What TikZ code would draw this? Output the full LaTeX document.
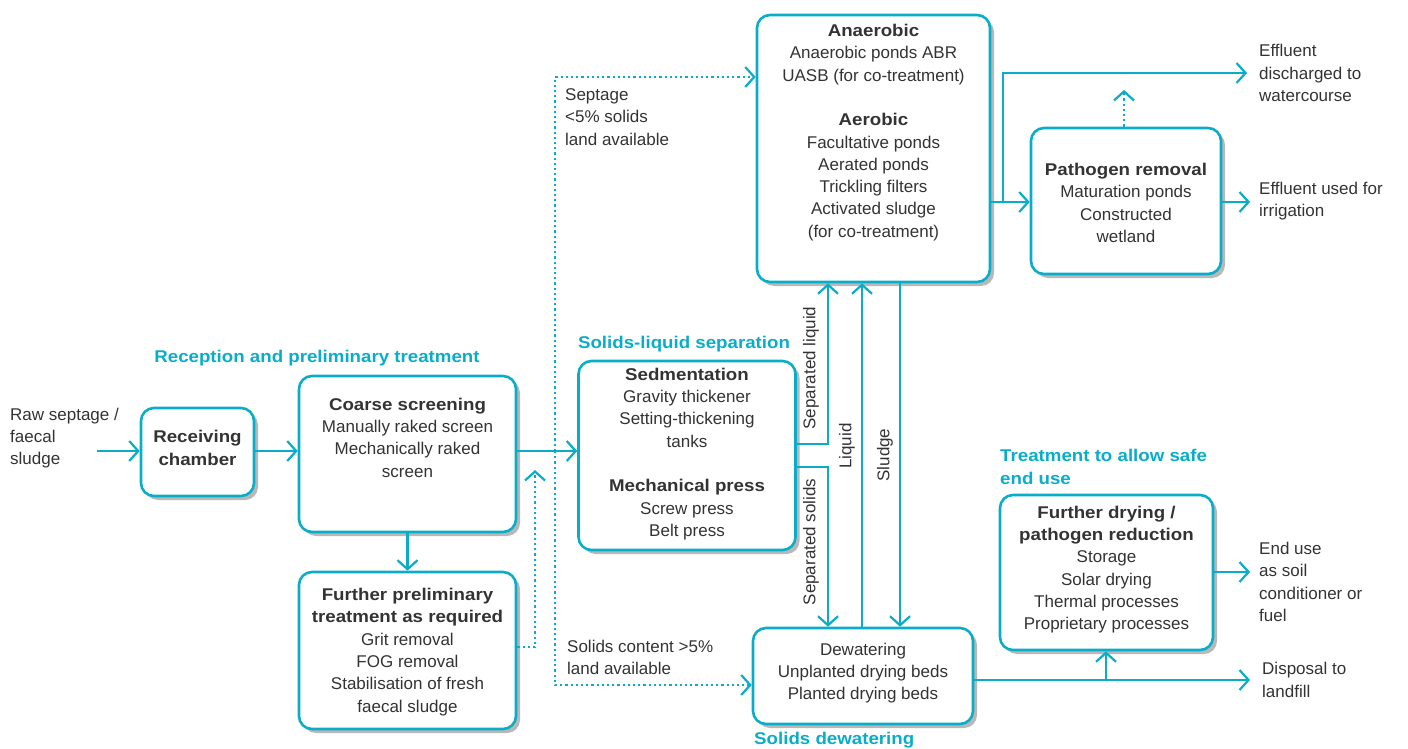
\documentclass[tikz,border=0pt]{standalone}
\usepackage{fontspec}
\setmainfont{Liberation Sans}[BoldFeatures={FakeStretch=1.1}]
\usetikzlibrary{arrows.meta,shadows}
\definecolor{cy}{HTML}{0AADC8}
\definecolor{tx}{HTML}{333333}
\tikzset{
  box/.style={draw=cy, line width=2.6pt, rounded corners=13pt, fill=white,
    drop shadow={shadow xshift=4pt, shadow yshift=-4pt, opacity=0.28, fill=black}},
  txt/.style={align=center, text=tx, font=\fontsize{17}{22.3}\selectfont, inner sep=0pt},
  ltxt/.style={align=left, text=tx, font=\fontsize{17}{22.3}\selectfont, inner sep=0pt, anchor=west},
  head/.style={text=cy, font=\fontsize{17}{23}\selectfont\bfseries, inner sep=0pt},
  conn/.style={draw=cy, line width=2.2pt, -{Straight Barb[length=9pt,width=20pt,line width=2.2pt]}},
  plain/.style={draw=cy, line width=2.2pt},
  dconn/.style={conn, dash pattern=on 2.2pt off 3pt},
  dplain/.style={plain, dash pattern=on 2.2pt off 3pt}
}
\begin{document}
\begin{tikzpicture}[x=1pt,y=-1pt]
\useasboundingbox (0,0) rectangle (1408,749);

% boxes
\node[box, minimum width=113pt, minimum height=88pt] (recv) at (197.5,452) {};
\node[box, minimum width=217pt, minimum height=156pt] (coarse) at (407.5,454) {};
\node[box, minimum width=217pt, minimum height=157pt] (further) at (407.5,650.5) {};
\node[box, minimum width=217pt, minimum height=189pt] (sed) at (687,455.5) {};
\node[box, minimum width=233pt, minimum height=267pt] (ana) at (873.5,148.5) {};
\node[box, minimum width=190pt, minimum height=146pt] (path) at (1126,201) {};
\node[box, minimum width=220pt, minimum height=96pt] (dew) at (863,676) {};
\node[box, minimum width=213pt, minimum height=155pt] (dry) at (1106.5,572.5) {};

% box texts
\node[txt] (recv-t) at (197.5,448) {\textbf{Receiving}\\\textbf{chamber}};
\node[txt] (coarse-t) at (407.5,437.5) {\textbf{Coarse screening}\\Manually raked screen\\Mechanically raked\\screen};
\node[txt] (further-t) at (407.5,652) {\textbf{Further preliminary}\\\textbf{treatment as required}\\Grit removal\\FOG removal\\Stabilisation of fresh\\faecal sludge};
\node[txt] (sed-t) at (687,454) {\textbf{Sedmentation}\\Gravity thickener\\Setting-thickening\\tanks\\[22.3pt]\textbf{Mechanical press}\\Screw press\\Belt press};
\node[txt] (ana-t) at (873.5,132.5) {\textbf{Anaerobic}\\Anaerobic ponds ABR\\UASB (for co-treatment)\\[22.3pt]\textbf{Aerobic}\\Facultative ponds\\Aerated ponds\\Trickling filters\\Activated sludge\\(for co-treatment)};
\node[txt] (path-t) at (1126,203) {\textbf{Pathogen removal}\\Maturation ponds\\Constructed\\wetland};
\node[txt] (dew-t) at (863,673) {Dewatering\\Unplanted drying beds\\Planted drying beds};
\node[txt] (dry-t) at (1106.5,569.5) {\textbf{Further drying /}\\\textbf{pathogen reduction}\\Storage\\Solar drying\\Thermal processes\\Proprietary processes};

% headings
\node[head] (h1) at (317,358) {Reception and preliminary treatment};
\node[head] (h2) at (684,344) {Solids-liquid separation};
\node[head, align=left, anchor=west] (h3) at (1000,466.5) {Treatment to allow safe\\end use};
\node[head, anchor=west] (h4) at (754,740) {Solids dewatering};

% free texts
\node[ltxt] (raw) at (10,438) {Raw septage /\\faecal\\sludge};
\node[ltxt] (sept) at (565,117) {Septage\\<5\% solids\\land available};
\node[ltxt] (solc) at (567,657.5) {Solids content >5\%\\land available};
\node[ltxt] (eff1) at (1259,73) {Effluent\\discharged to\\watercourse};
\node[ltxt] (eff2) at (1259,201) {Effluent used for\\irrigation};
\node[ltxt] (enduse) at (1259,582) {End use\\as soil\\conditioner or\\fuel};
\node[ltxt] (disp) at (1262,680) {Disposal to\\landfill};

% rotated labels
\node[txt, rotate=90] (l-sl) at (811,368) {Separated liquid};
\node[txt, rotate=90] (l-ss) at (811,542) {Separated solids};
\node[txt, rotate=90] (l-liq) at (847,446) {Liquid};
\node[txt, rotate=90] (l-slu) at (885,455) {Sludge};

% helper coordinates
\coordinate (rawend) at (97,451);
\coordinate (y451) at (0,451);
\coordinate (y647) at (0,647);
\coordinate (dotup) at (535,470);
\coordinate (split) at (555,451);
\coordinate (y77) at (0,77);
\coordinate (y685) at (0,685);
\coordinate (y444) at (0,444);
\coordinate (y467) at (0,467);
\coordinate (x828) at (828,0);
\coordinate (x862) at (862,0);
\coordinate (x900) at (900,0);
\coordinate (y202) at (0,202);
\coordinate (y73) at (0,73);
\coordinate (x1003) at (1003,0);
\coordinate (effend) at (1247,73);
\coordinate (irrend) at (1250,202);
\coordinate (pathup) at (1124,90);
\coordinate (y572) at (0,572);
\coordinate (endend) at (1250,572);
\coordinate (y680) at (0,680);
\coordinate (dispend) at (1250,680);
\coordinate (x1106) at (1106,0);

% connectors
\draw[conn] (rawend) -- (recv.west |- rawend);
\draw[conn] (recv.east |- rawend) -- (coarse.west |- rawend);
\draw[conn] (coarse.east |- y451) -- (sed.west |- y451);
\draw[conn] (coarse.south) -- (further.north);
\draw[dconn] (further.east |- y647) -| (dotup);
\draw[dconn] (split) |- (ana.west |- y77);
\draw[dconn] (split) |- (dew.west |- y685);

\draw[conn] (sed.east |- y444) -| (ana.south -| x828);
\draw[conn] (sed.east |- y467) -| (dew.north -| x828);
\draw[conn] (dew.north -| x862) -- (ana.south -| x862);
\draw[conn] (ana.south -| x900) -- (dew.north -| x900);

\draw[conn] (ana.east |- y202) -- (path.west |- y202);
\draw[conn] (x1003 |- y202) -- (x1003 |- y73) -- (effend);
\draw[dconn] (path.north -| pathup) -- (pathup);
\draw[conn] (path.east |- y202) -- (irrend);

\draw[conn] (dry.east |- y572) -- (endend);
\draw[conn] (dew.east |- y680) -- (dispend);
\draw[conn] (x1106 |- y680) -- (dry.south -| x1106);
\end{tikzpicture}
\end{document}
